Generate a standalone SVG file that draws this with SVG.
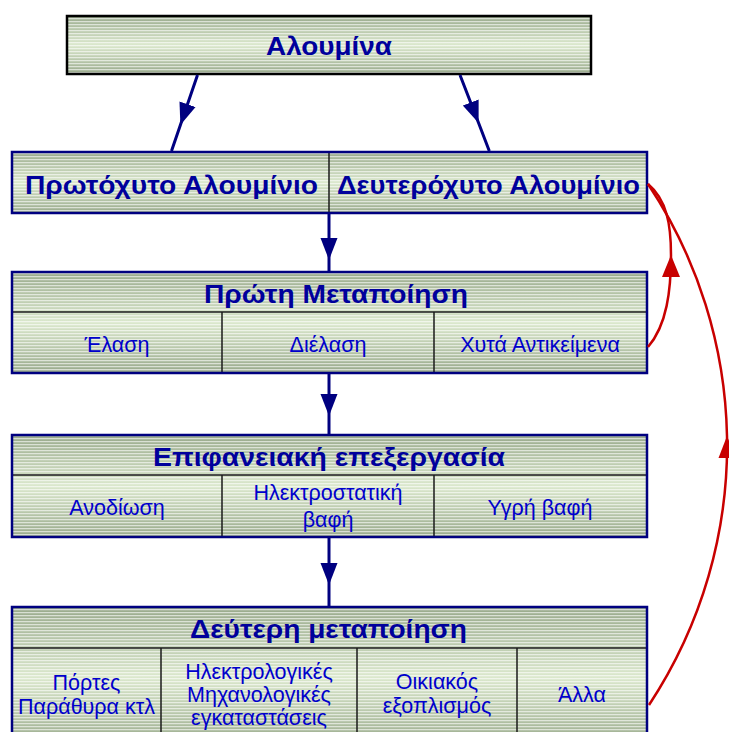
<svg xmlns="http://www.w3.org/2000/svg" width="729" height="732" viewBox="0 0 729 732">
  <defs>
    <linearGradient id="shade" x1="0" y1="0" x2="0" y2="1">
      <stop offset="0" stop-color="#98a98b"/>
      <stop offset="0.5" stop-color="#dbe8cd"/>
      <stop offset="1" stop-color="#98a98b"/>
    </linearGradient>
    <pattern id="stripes" patternUnits="userSpaceOnUse" width="8" height="3">
      <rect x="0" y="0" width="8" height="1" fill="#ffffff" fill-opacity="0.6"/>
      <rect x="0" y="1" width="8" height="1" fill="#ffffff" fill-opacity="0.15"/>
    </pattern>
    <marker id="navyHead" markerUnits="userSpaceOnUse" viewBox="0 -9 22 18" refX="22" refY="0" markerWidth="22" markerHeight="18" orient="auto">
      <path d="M0,-8.5 L22,0 L0,8.5 Z" fill="#000080"/>
    </marker>
    <marker id="redHead" markerUnits="userSpaceOnUse" viewBox="0 -9 22 18" refX="22" refY="0" markerWidth="22" markerHeight="18" orient="auto">
      <path d="M0,-9 L22,0 L0,9 Z" fill="#c80000"/>
    </marker>
  </defs>
  <style>
    .fill { fill: url(#shade); }
    .lines { fill: url(#stripes); }
    .frame { fill: none; stroke: #000080; stroke-width: 2.5; }
    .frameBlack { fill: none; stroke: #000000; stroke-width: 2.5; }
    .div { stroke: #1a1a1a; stroke-width: 1.5; }
    .head { font-family: "Liberation Sans", Arial, sans-serif; font-weight: bold; font-size: 26px; fill: #00009c; text-anchor: middle; }
    .sub { font-family: "Liberation Sans", Arial, sans-serif; font-size: 21.5px; fill: #0000cc; text-anchor: middle; }
    .arrow { fill: none; stroke: #000080; stroke-width: 3; marker-mid: url(#navyHead); }
    .back { fill: none; stroke: #c80000; stroke-width: 2.5; marker-mid: url(#redHead); }
  </style>

  <rect width="729" height="732" fill="#ffffff"/>

  <!-- raw material -->
  <g id="alumina">
    <rect class="fill" x="67" y="16" width="524" height="58"/>
    <rect class="lines" x="67" y="16" width="524" height="58"/>
    <rect class="frameBlack" x="67" y="16" width="524" height="58"/>
    <text class="head" x="329" y="55" textLength="126" lengthAdjust="spacingAndGlyphs">Αλουμίνα</text>
  </g>

  <!-- primary / secondary aluminium -->
  <g id="aluminium">
    <rect class="fill" x="12" y="152" width="635" height="61"/>
    <rect class="lines" x="12" y="152" width="635" height="61"/>
    <line class="div" x1="329" y1="152" x2="329" y2="213"/>
    <rect class="frame" x="12" y="152" width="635" height="61"/>
    <text class="head" x="171.5" y="194" textLength="293" lengthAdjust="spacingAndGlyphs">Πρωτόχυτο Αλουμίνιο</text>
    <text class="head" x="488.5" y="194" textLength="303" lengthAdjust="spacingAndGlyphs">Δευτερόχυτο Αλουμίνιο</text>
  </g>

  <!-- first processing -->
  <g id="first-processing">
    <rect class="fill" x="12" y="272" width="635" height="101"/>
    <rect class="lines" x="12" y="272" width="635" height="101"/>
    <line class="div" x1="12" y1="312" x2="647" y2="312"/>
    <line class="div" x1="222" y1="312" x2="222" y2="373"/>
    <line class="div" x1="434" y1="312" x2="434" y2="373"/>
    <rect class="frame" x="12" y="272" width="635" height="101"/>
    <text class="head" x="336" y="303" textLength="264" lengthAdjust="spacingAndGlyphs">Πρώτη Μεταποίηση</text>
    <text class="sub" x="117" y="352">Έλαση</text>
    <text class="sub" x="328" y="352">Διέλαση</text>
    <text class="sub" x="540" y="352">Χυτά Αντικείμενα</text>
  </g>

  <!-- surface treatment -->
  <g id="surface-treatment">
    <rect class="fill" x="12" y="435" width="635" height="102"/>
    <rect class="lines" x="12" y="435" width="635" height="102"/>
    <line class="div" x1="12" y1="475" x2="647" y2="475"/>
    <line class="div" x1="222" y1="475" x2="222" y2="537"/>
    <line class="div" x1="434" y1="475" x2="434" y2="537"/>
    <rect class="frame" x="12" y="435" width="635" height="102"/>
    <text class="head" x="329" y="466" textLength="352" lengthAdjust="spacingAndGlyphs">Επιφανειακή επεξεργασία</text>
    <text class="sub" x="117" y="515">Ανοδίωση</text>
    <text class="sub" x="328" y="500">Ηλεκτροστατική</text>
    <text class="sub" x="328" y="527">βαφή</text>
    <text class="sub" x="540" y="515">Υγρή βαφή</text>
  </g>

  <!-- second processing -->
  <g id="second-processing">
    <rect class="fill" x="12" y="607" width="635" height="140"/>
    <rect class="lines" x="12" y="607" width="635" height="140"/>
    <line class="div" x1="12" y1="648" x2="647" y2="648"/>
    <line class="div" x1="161" y1="648" x2="161" y2="747"/>
    <line class="div" x1="357" y1="648" x2="357" y2="747"/>
    <line class="div" x1="517" y1="648" x2="517" y2="747"/>
    <rect class="frame" x="12" y="607" width="635" height="140"/>
    <text class="head" x="328.5" y="638" textLength="277" lengthAdjust="spacingAndGlyphs">Δεύτερη μεταποίηση</text>
    <text class="sub" x="86.5" y="690">Πόρτες</text>
    <text class="sub" x="86.5" y="714">Παράθυρα κτλ</text>
    <text class="sub" x="259" y="679">Ηλεκτρολογικές</text>
    <text class="sub" x="259" y="702">Μηχανολογικές</text>
    <text class="sub" x="259" y="725">εγκαταστάσεις</text>
    <text class="sub" x="437" y="689">Οικιακός</text>
    <text class="sub" x="437" y="713">εξοπλισμός</text>
    <text class="sub" x="582" y="702">Άλλα</text>
  </g>

  <!-- connectors -->
  <g id="connectors">
    <polyline class="arrow" points="197.5,75 180.4,125 171.5,151"/>
    <polyline class="arrow" points="460,75 478.6,123 489.3,151"/>
    <polyline class="arrow" points="329,214 329,260 329,271"/>
    <polyline class="arrow" points="329,374 329,416 329,434"/>
    <polyline class="arrow" points="329,538 329,585 329,606"/>
    <!-- recycling loops back to secondary aluminium -->
    <path class="back" d="M648,347 C667,325 671,290 671,255 C671,225 667,200 648,184"/>
    <path class="back" d="M649,705 A471,471 0 0 0 727,436 A471,471 0 0 0 648,184"/>
  </g>
</svg>
